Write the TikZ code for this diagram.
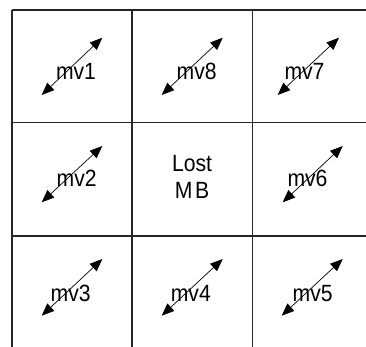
\documentclass[tikz,border=0pt]{standalone}
\usepackage{fontspec}
\newfontfamily\labfont[FakeStretch=0.9]{Liberation Sans}
\usetikzlibrary{arrows.meta}
\tikzset{
  gridline/.style={line width=1.8pt, draw=black!85},
  mvarrow/.style={line width=0.7pt, {Triangle[length=12.5pt,width=10pt]}-{Triangle[length=12.5pt,width=10pt]}},
  mvlabel/.style={anchor=base, inner sep=0pt, font=\labfont\fontsize{23.5}{28}\selectfont, text=black}
}
\begin{document}
\begin{tikzpicture}[x=1pt,y=-1pt]
\useasboundingbox (0,0) rectangle (366,347);
% grid
\draw[gridline] (12,10) -- (366,10);
\draw[gridline] (12,122.5) -- (366,122.5);
\draw[gridline] (12,236) -- (366,236);
\draw[gridline] (12,10) -- (12,347);
\draw[gridline] (132,10) -- (132,347);
\draw[gridline] (252.5,10) -- (252.5,347);
% arrows
\draw[mvarrow] (41.7,95) -- (102.3,37.7);
\draw[mvarrow] (161.7,95) -- (222.7,37.7);
\draw[mvarrow] (277.7,95) -- (339,37.7);
\draw[mvarrow] (41.7,202.3) -- (102.3,146);
\draw[mvarrow] (282.7,202.3) -- (342.7,146);
\draw[mvarrow] (41.7,315.7) -- (102.3,259);
\draw[mvarrow] (161.7,315.7) -- (222.7,259);
\draw[mvarrow] (281.7,315.7) -- (342.7,259);
% labels
\node[mvlabel] (mv1) at (76,80) {mv1};
\node[mvlabel] (mv8) at (196.7,80) {mv8};
\node[mvlabel] (mv7) at (304.5,80) {mv7};
\node[mvlabel] (mv2) at (76.7,186) {mv2};
\node[mvlabel] (lost) at (192,172) {Lost};
\node[mvlabel] (mb) at (192,199) {M\kern2.5ptB};
\node[mvlabel] (mv6) at (307.5,187) {mv6};
\node[mvlabel] (mv3) at (70.7,301.7) {mv3};
\node[mvlabel] (mv4) at (190.8,301.7) {mv4};
\node[mvlabel] (mv5) at (312.7,301.7) {mv5};
\end{tikzpicture}
\end{document}
